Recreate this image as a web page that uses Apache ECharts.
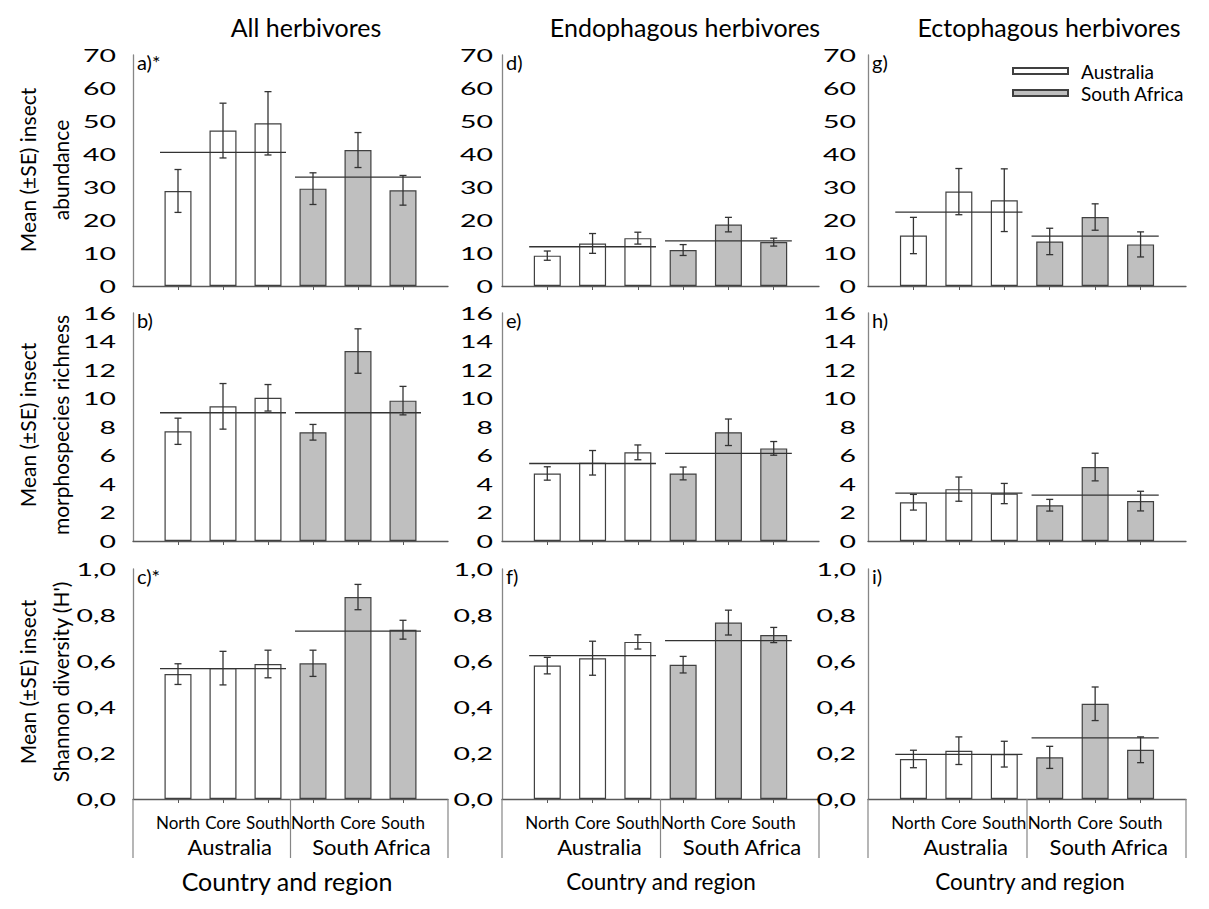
<!DOCTYPE html>
<html>
<head>
<meta charset="utf-8">
<script src="https://cdn.jsdelivr.net/npm/echarts@6/dist/echarts.min.js"></script>
<style>
  html, body { margin: 0; padding: 0; background: #fff; }
  #chart { width: 1209px; height: 909px; }
</style>
</head>
<body>
<div id="chart"></div>
<script>
// ---- text ----
const columnTitles = ['All herbivores', 'Endophagous herbivores', 'Ectophagous herbivores'];
const rowTitles = [
  ['Mean (±SE) insect', 'abundance'],
  ['Mean (±SE) insect', 'morphospecies richness'],
  ['Mean (±SE) insect', "Shannon diversity (H')"]
];
const panelLetters = [['a)*', 'd)', 'g)'], ['b)', 'e)', 'h)'], ['c)*', 'f)', 'i)']];
const regions = ['North', 'Core', 'South', 'North', 'Core', 'South'];
const countries = ['Australia', 'South Africa'];
const xTitle = 'Country and region';

// ---- y-axis ticks per row ----
const abundanceTicks = [0, 10, 20, 30, 40, 50, 60, 70];
const richnessTicks = [0, 2, 4, 6, 8, 10, 12, 14, 16];
const diversityTicks = [0, 0.2, 0.4, 0.6, 0.8, 1.0];

// ---- site positions on the x scale (Australia N/C/S, South Africa N/C/S) ----
const sitePositions = [1, 2, 3, 4, 5, 6];
const groupSpans = [[0.6, 3.4], [3.6, 6.4]];
const groupCentres = [2.15, 5.3];
const groupBounds = [0, 3.5, 7];

// ---- abundance (row 1) ----
const abundAllMean = [28.8, 47.1, 49.3, 29.5, 41.2, 29.0];
const abundAllSE = [6.5, 8.3, 9.6, 4.8, 5.3, 4.5];
const abundAllGroup = [40.5, 33.0];
const abundEndoMean = [9.2, 12.9, 14.5, 10.9, 18.6, 13.3];
const abundEndoSE = [1.4, 3.0, 1.8, 1.65, 2.2, 1.2];
const abundEndoGroup = [11.9, 13.7];
const abundEctoMean = [15.3, 28.6, 26.0, 13.5, 20.9, 12.6];
const abundEctoSE = [5.5, 7.0, 9.5, 4.0, 4.0, 3.8];
const abundEctoGroup = [22.4, 15.1];

// ---- morphospecies richness (row 2) ----
const richAllMean = [7.7, 9.45, 10.05, 7.63, 13.33, 9.85];
const richAllSE = [0.92, 1.6, 0.93, 0.55, 1.56, 1.0];
const richAllGroup = [9.0, 9.0];
const richEndoMean = [4.74, 5.49, 6.22, 4.74, 7.63, 6.5];
const richEndoSE = [0.47, 0.86, 0.52, 0.45, 0.93, 0.48];
const richEndoGroup = [5.44, 6.15];
const richEctoMean = [2.72, 3.64, 3.33, 2.51, 5.19, 2.8];
const richEctoSE = [0.55, 0.85, 0.71, 0.41, 0.97, 0.69];
const richEctoGroup = [3.36, 3.22];

// ---- Shannon diversity (row 3) ----
const divAllMean = [0.543, 0.569, 0.587, 0.590, 0.878, 0.736];
const divAllSE = [0.045, 0.073, 0.06, 0.057, 0.055, 0.041];
const divAllGroup = [0.567, 0.730];
const divEndoMean = [0.580, 0.612, 0.683, 0.584, 0.767, 0.713];
const divEndoSE = [0.036, 0.074, 0.031, 0.036, 0.054, 0.033];
const divEndoGroup = [0.623, 0.689];
const divEctoMean = [0.174, 0.210, 0.195, 0.181, 0.414, 0.214];
const divEctoSE = [0.038, 0.06, 0.056, 0.048, 0.073, 0.056];
const divEctoGroup = [0.194, 0.266];

const rowsData = [
  [[abundAllMean, abundAllSE, abundAllGroup], [abundEndoMean, abundEndoSE, abundEndoGroup], [abundEctoMean, abundEctoSE, abundEctoGroup]],
  [[richAllMean, richAllSE, richAllGroup], [richEndoMean, richEndoSE, richEndoGroup], [richEctoMean, richEctoSE, richEctoGroup]],
  [[divAllMean, divAllSE, divAllGroup], [divEndoMean, divEndoSE, divEndoGroup], [divEctoMean, divEctoSE, divEctoGroup]]
];
const rowTicks = [abundanceTicks, richnessTicks, diversityTicks];
const rowFormat = [
  v => String(v),
  v => String(v),
  v => v.toFixed(1).replace('.', ',')
];

// ---- layout ----
const FONT = 'Lato';
const colLeft = [133, 502, 868];
const colWidth = [315, 317, 318];
const rowTop = [55, 313, 569];
const rowHeight = [231, 228, 230];
const tickLabelGap = [17, 9, 12];
const AXIS_GREY = '#868686';
const DARK = '#404040';

function errorBarItem(params, api) {
  const x = api.value(0), m = api.value(1), se = api.value(2);
  const top = api.coord([x, m + se]);
  const bot = api.coord([x, m - se]);
  const cap = 3.5;
  const style = { stroke: '#333', lineWidth: 1.3 };
  return {
    type: 'group',
    children: [
      { type: 'line', shape: { x1: top[0], y1: top[1], x2: bot[0], y2: bot[1] }, style },
      { type: 'line', shape: { x1: top[0] - cap, y1: top[1], x2: top[0] + cap, y2: top[1] }, style },
      { type: 'line', shape: { x1: bot[0] - cap, y1: bot[1], x2: bot[0] + cap, y2: bot[1] }, style }
    ]
  };
}

// y tick labels drawn wide, as in the printed figure
function tickLabelItem(gap, fmt) {
  return function (params, api) {
    const v = api.value(1);
    const p = api.coord([0, v]);
    return {
      type: 'text',
      x: p[0] - gap,
      y: p[1],
      scaleX: 1.58,
      style: {
        text: fmt(v), x: 0, y: 0, align: 'right', verticalAlign: 'middle',
        fill: '#000', fontSize: 18, fontFamily: FONT
      }
    };
  };
}

function separatorItem(params, api) {
  const p = api.coord([api.value(0), 0]);
  return {
    type: 'line',
    shape: { x1: p[0], y1: p[1], x2: p[0], y2: p[1] + 59 },
    style: { stroke: AXIS_GREY, lineWidth: 1.2 }
  };
}

function groupLabelItem(params, api) {
  const p = api.coord([api.value(0), 0]);
  return {
    type: 'text',
    x: p[0],
    y: p[1] + 47,
    style: {
      text: countries[params.dataIndex], x: 0, y: 0, align: 'center', verticalAlign: 'middle',
      fill: '#000', fontSize: 22, fontFamily: FONT
    }
  };
}

const grids = [], xAxes = [], yAxes = [], series = [], graphics = [];

for (let r = 0; r < 3; r++) {
  for (let c = 0; c < 3; c++) {
    const k = r * 3 + c;
    const [means, ses, groupMeans] = rowsData[r][c];
    const ticks = rowTicks[r];
    grids.push({ left: colLeft[c], top: rowTop[r], width: colWidth[c], height: rowHeight[r] });
    xAxes.push({
      type: 'value', gridIndex: k, min: 0, max: 7, interval: 1,
      splitLine: { show: false },
      axisLine: { lineStyle: { color: '#595959', width: 1.3 } },
      axisTick: { show: true, customValues: sitePositions, length: 4, lineStyle: { color: '#595959' } },
      axisLabel: r === 2 ? {
        show: true, customValues: sitePositions, margin: 15,
        formatter: v => regions[Math.round(v) - 1],
        fontSize: 17, fontFamily: FONT, color: '#000'
      } : { show: false }
    });
    yAxes.push({
      type: 'value', gridIndex: k, min: 0, max: ticks[ticks.length - 1],
      interval: ticks[1] - ticks[0],
      splitLine: { show: false },
      axisLine: { show: true, lineStyle: { color: AXIS_GREY, width: 1.3 } },
      axisTick: { show: false },
      axisLabel: { show: false }
    });

    series.push({
      name: countries[0], type: 'bar', xAxisIndex: k, yAxisIndex: k,
      barWidth: 27, barGap: '-100%', silent: true,
      itemStyle: { color: '#ffffff', borderColor: DARK, borderWidth: 1.2 },
      data: [0, 1, 2].map(i => [sitePositions[i], means[i]])
    });
    series.push({
      name: countries[1], type: 'bar', xAxisIndex: k, yAxisIndex: k,
      barWidth: 27, barGap: '-100%', silent: true,
      itemStyle: { color: '#bfbfbf', borderColor: DARK, borderWidth: 1.2 },
      data: [3, 4, 5].map(i => [sitePositions[i], means[i]])
    });
    groupSpans.forEach((span, g) => {
      series.push({
        type: 'line', xAxisIndex: k, yAxisIndex: k, symbol: 'none', silent: true, z: 4,
        lineStyle: { color: '#333', width: 1.3 },
        data: [[span[0], groupMeans[g]], [span[1], groupMeans[g]]]
      });
    });
    series.push({
      type: 'custom', xAxisIndex: k, yAxisIndex: k, silent: true, z: 5,
      renderItem: errorBarItem,
      data: sitePositions.map((x, i) => [x, means[i], ses[i]])
    });
    series.push({
      type: 'custom', xAxisIndex: k, yAxisIndex: k, silent: true, clip: false,
      renderItem: tickLabelItem(tickLabelGap[c], rowFormat[r]),
      data: ticks.map(t => [0, t])
    });
    if (r === 2) {
      series.push({
        type: 'custom', xAxisIndex: k, yAxisIndex: k, silent: true, clip: false,
        renderItem: separatorItem,
        data: groupBounds.map(b => [b, 0])
      });
      series.push({
        type: 'custom', xAxisIndex: k, yAxisIndex: k, silent: true, clip: false,
        renderItem: groupLabelItem,
        data: groupCentres.map(b => [b, 0])
      });
    }

    graphics.push({
      type: 'text', left: colLeft[c] + 4, top: rowTop[r] - 3,
      style: { text: panelLetters[r][c], fontSize: 20, fontFamily: FONT, fill: '#000' }
    });
  }
}

// column headings and x titles
const colHeadCentre = [306, 685, 1049];
const xTitleCentre = [287, 661, 1030];
const xTitleSize = [25, 22.5, 22.5];
columnTitles.forEach((t, c) => {
  graphics.push({
    type: 'text', x: colHeadCentre[c], y: 27,
    style: { text: t, fontSize: 25, fontFamily: FONT, fill: '#000', align: 'center', verticalAlign: 'middle' }
  });
  graphics.push({
    type: 'text', x: xTitleCentre[c], y: 881,
    style: { text: xTitle, fontSize: xTitleSize[c], fontFamily: FONT, fill: '#000', align: 'center', verticalAlign: 'middle' }
  });
});

// rotated y titles
const yTitleCentre = [170, 425, 682];
rowTitles.forEach((lines, r) => {
  [27, 60].forEach((x, j) => {
    graphics.push({
      type: 'text', x: x, y: yTitleCentre[r], rotation: Math.PI / 2,
      style: { text: lines[j], fontSize: 21, fontFamily: FONT, fill: '#000', align: 'center', verticalAlign: 'middle' }
    });
  });
});

const chart = echarts.init(document.getElementById('chart'), null, { renderer: 'svg' });
chart.setOption({
  backgroundColor: '#ffffff',
  animation: false,
  grid: grids,
  xAxis: xAxes,
  yAxis: yAxes,
  legend: {
    data: countries, orient: 'vertical', left: 1012, top: 60,
    icon: 'rect', itemWidth: 55, itemHeight: 6, itemGap: 0, padding: 0,
    selectedMode: false,
    textStyle: { fontSize: 19, fontFamily: FONT, color: '#000', lineHeight: 22, padding: [0, 0, 0, 8] }
  },
  graphic: graphics,
  series: series
});
</script>
</body>
</html>
